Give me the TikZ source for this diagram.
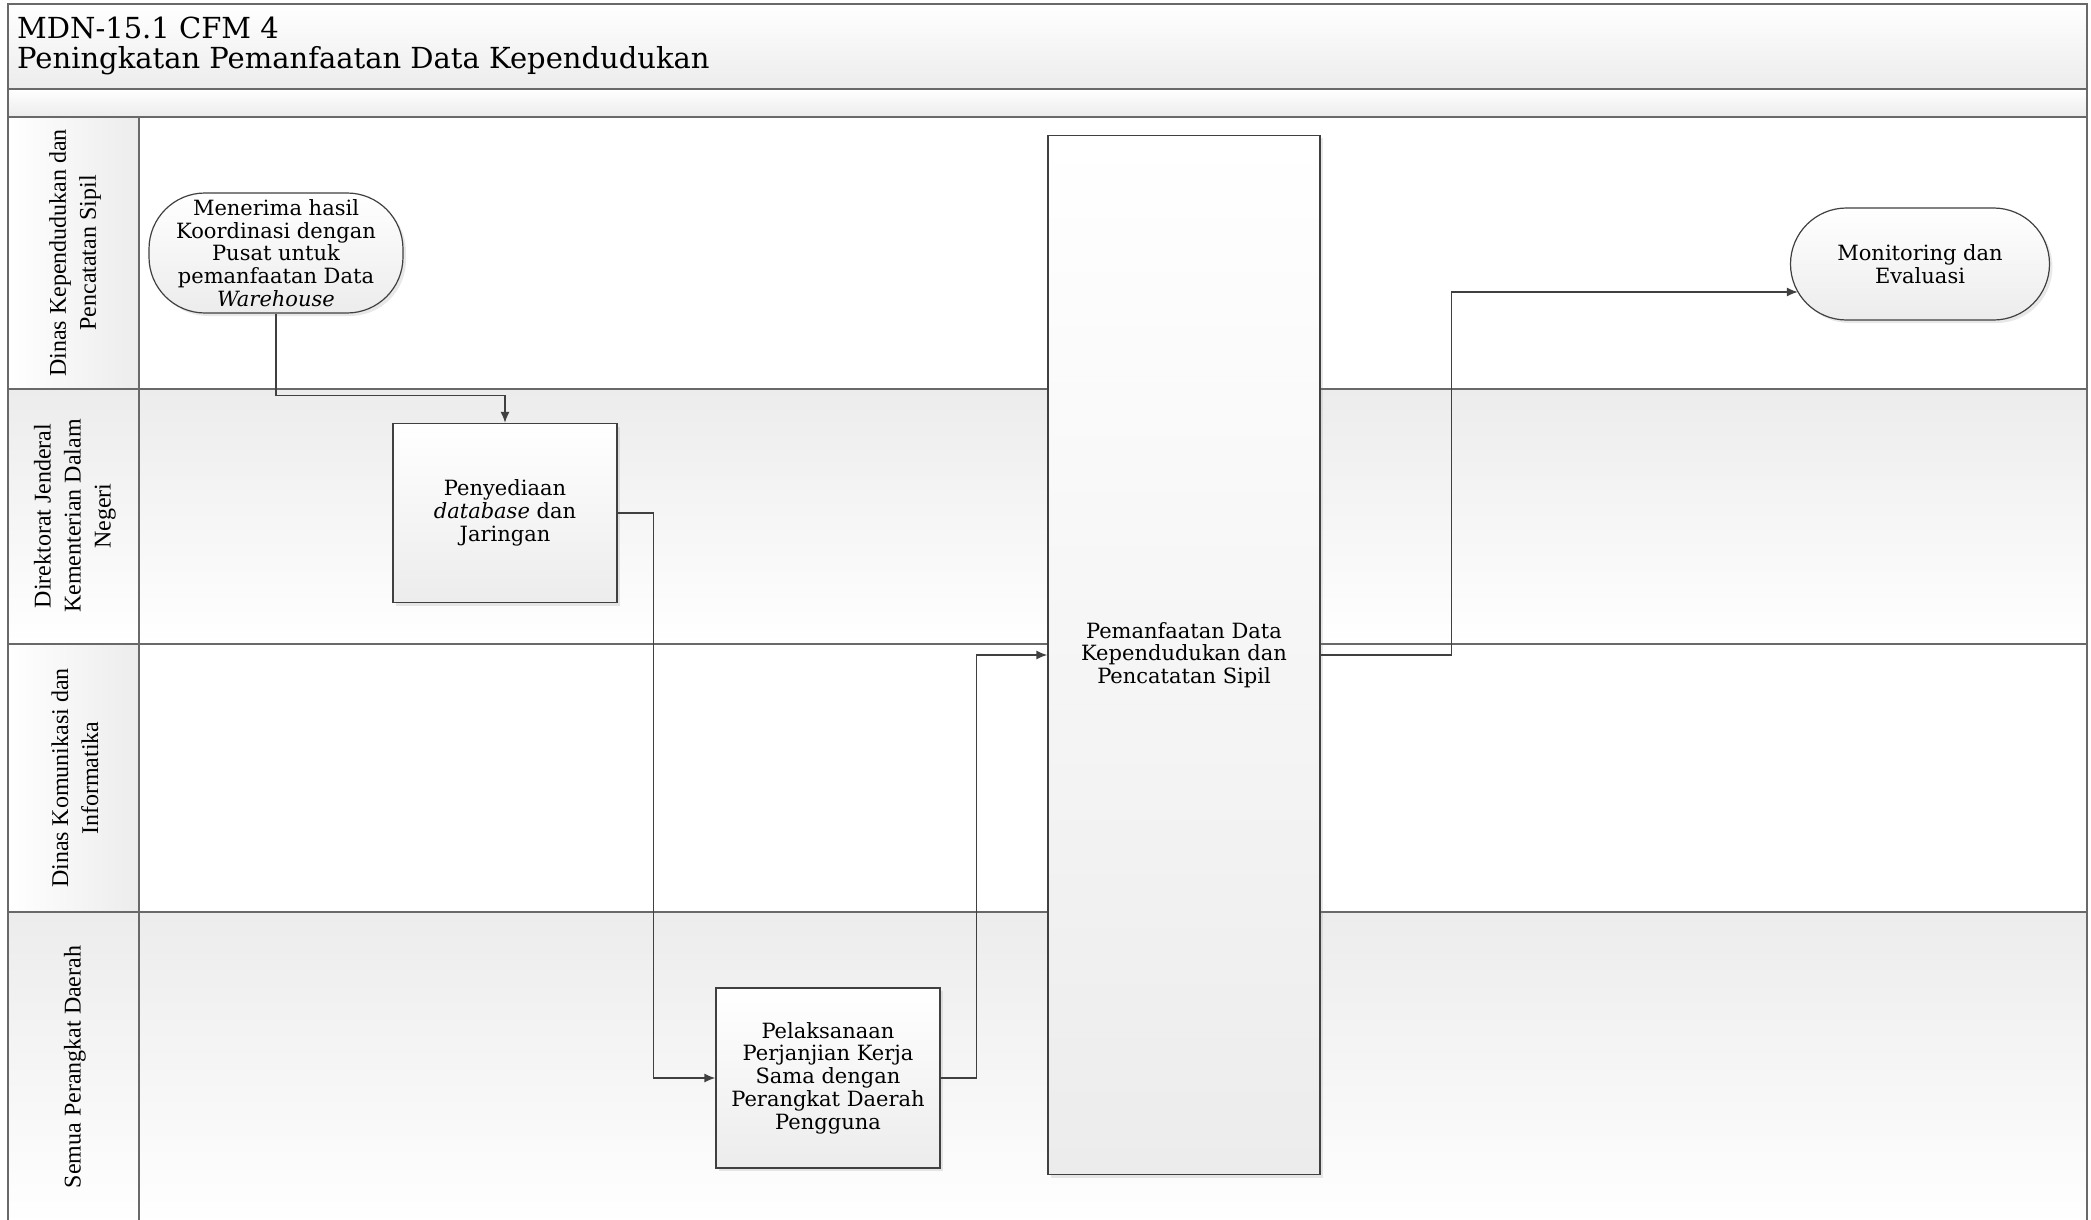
\documentclass[tikz,border=0pt]{standalone}
\usepackage{fontspec}
\setmainfont{DejaVu Serif}
\newfontfamily\lanefont{Liberation Serif}
\usetikzlibrary{arrows.meta,shadows}
\definecolor{linegray}{RGB}{64,64,64}
\definecolor{framegray}{RGB}{105,105,105}
\definecolor{bandgray}{RGB}{236,236,236}

\begin{document}
\begin{tikzpicture}[
    x=1pt, y=-1pt,
    band/.style={draw=framegray, line width=1.5pt},
    lanelabel/.style={
        rotate=90,
        align=center,
        inner sep=0pt,
        font=\lanefont\fontsize{24}{30}\selectfont,
    },
    proc/.style={
        draw=linegray,
        line width=1.2pt,
        top color=white,
        bottom color=bandgray,
        align=center,
        inner sep=2pt,
        font=\fontsize{21}{22.7}\selectfont,
        drop shadow={opacity=0.18, shadow xshift=3pt, shadow yshift=-3pt},
    },
    term/.style={proc, rounded corners=56pt},
    flow/.style={draw=linegray, line width=1.6pt, -{Latex[length=11pt,width=9pt]}},
    ]
    \useasboundingbox (0,0) rectangle (2091,1220);
    \fill[white] (0,0) rectangle (2091,1220);
    % header bands
    \draw[band, top color=white, bottom color=bandgray] (8,4) rectangle (2087,89);
    \draw[band, top color=white, bottom color=bandgray] (8,89) rectangle (2087,117);
    \node[anchor=west, align=left, inner sep=0pt, font=\fontsize{29}{30}\selectfont] (title) at (17,46)
        {MDN-15.1 CFM 4\\Peningkatan Pemanfaatan Data Kependudukan};
    % lanes
    \draw[band, fill=white] (139,117) rectangle (2087,389);
    \draw[band, left color=white, right color=bandgray] (8,117) rectangle (139,389);
    \draw[band, top color=bandgray, bottom color=white] (139,389) rectangle (2087,644);
    \draw[band, top color=bandgray, bottom color=white] (8,389) rectangle (139,644);
    \draw[band, fill=white] (139,644) rectangle (2087,912);
    \draw[band, left color=white, right color=bandgray] (8,644) rectangle (139,912);
    \draw[band, top color=bandgray, bottom color=white] (139,912) rectangle (2087,1226);
    \draw[band, top color=bandgray, bottom color=white] (8,912) rectangle (139,1226);
    \node[lanelabel] (ldukcapil) at (75,253) {Dinas Kependudukan dan\\Pencatatan Sipil};
    \node[lanelabel] (ldirjen) at (75,516) {Direktorat Jenderal\\Kementerian Dalam\\Negeri};
    \node[lanelabel] (lkominfo) at (75,778) {Dinas Komunikasi dan\\Informatika};
    \node[lanelabel] (lopd) at (75,1067) {Semua Perangkat Daerah};
    % steps
    \node[term, minimum width=254pt, minimum height=120pt] (terima) at (276,253)
        {Menerima hasil\\Koordinasi dengan\\Pusat untuk\\pemanfaatan Data\\\textit{Warehouse}};
    \node[proc, minimum width=224pt, minimum height=179pt] (sedia) at (505,513)
        {Penyediaan\\\textit{database} dan\\Jaringan};
    \node[proc, minimum width=224pt, minimum height=180pt] (pks) at (828,1078)
        {Pelaksanaan\\Perjanjian Kerja\\Sama dengan\\Perangkat Daerah\\Pengguna};
    \node[proc, minimum width=272pt, minimum height=1039pt] (manfaat) at (1184,655)
        {Pemanfaatan Data\\Kependudukan dan\\Pencatatan Sipil};
    \node[term, minimum width=259pt, minimum height=112pt] (monev) at (1920,264)
        {Monitoring dan\\Evaluasi};
    \coordinate (monevin) at ([shift={(8,28)}]monev.west);
    % flows
    \draw[flow] (terima.south) -- ++(0,82) -| (sedia.north);
    \draw[flow] (sedia.east) -- ++(36,0) |- (pks.west);
    \draw[flow] (pks.east) -- ++(36,0) |- (manfaat.west);
    \draw[flow] (manfaat.east) -- ++(131,0) |- (monevin);
\end{tikzpicture}
\end{document}
